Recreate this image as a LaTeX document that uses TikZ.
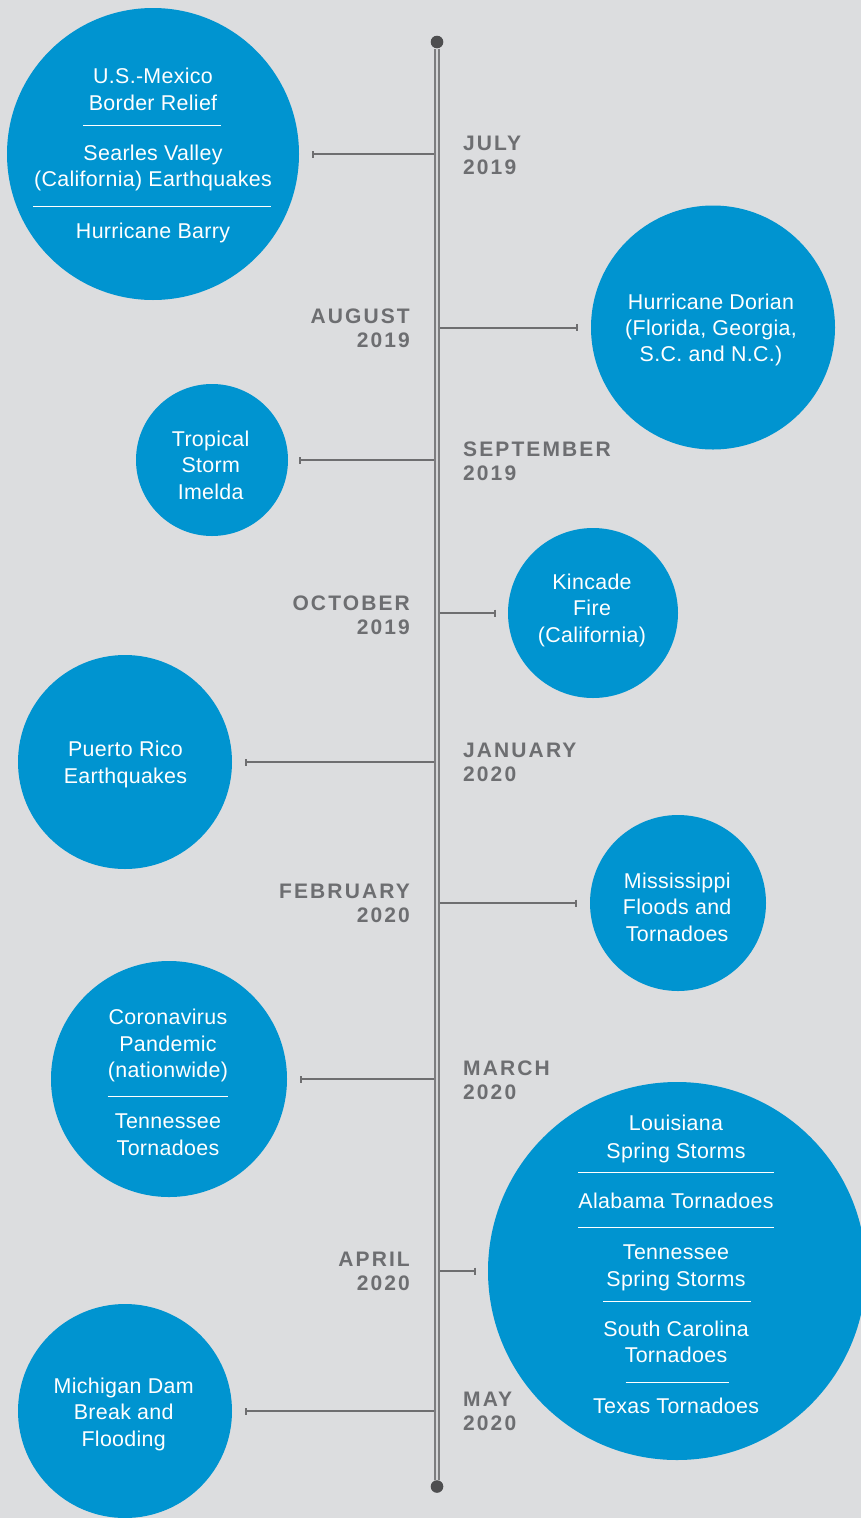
\documentclass[tikz,border=0pt]{standalone}
\usepackage{fontspec}
\setmainfont{Liberation Sans}
\newfontfamily\circfont{Liberation Sans}[LetterSpace=1.5]
\newfontfamily\lblfont{Liberation Sans}[LetterSpace=10]
\usetikzlibrary{arrows.meta}
\definecolor{bgcol}{HTML}{DCDDDF}
\definecolor{cblue}{HTML}{0094D0}
\definecolor{lblgray}{HTML}{6D6E71}
\definecolor{conngray}{HTML}{6E6E70}
\definecolor{dotgray}{HTML}{4E4E50}
\definecolor{tlgray}{HTML}{7C7C7E}
\definecolor{tlinner}{HTML}{D4D5D7}
\begin{document}
\begin{tikzpicture}[x=1pt,y=-1pt,
  bubble/.style={circle,fill=cblue,inner sep=0pt,minimum size=#1},
  ctext/.style={text=white,font=\circfont\fontsize{21.4}{26.7}\selectfont,anchor=base,inner sep=0pt},
  lblL/.style={text=lblgray,font=\lblfont\bfseries\fontsize{21}{24}\selectfont,anchor=base west,inner sep=0pt},
  lblR/.style={text=lblgray,font=\lblfont\bfseries\fontsize{21}{24}\selectfont,anchor=base east,inner sep=0pt},
  conn/.style={draw=conngray,line width=2pt,-{Bar[width=7pt]},shorten >=13pt},
  sepline/.style={draw=white,line width=1pt},
  tldot/.style={circle,fill=dotgray,inner sep=0pt,minimum size=12.6pt},
]
\useasboundingbox (0,0) rectangle (861,1518);
\fill[bgcol] (0,0) rectangle (861,1518);
\clip (0,0) rectangle (861,1518);

% bubbles
\node[bubble=292pt] (c1) at (153,154) {};
\node[bubble=244pt] (c2) at (713,327.5) {};
\node[bubble=152pt] (c3) at (212,460) {};
\node[bubble=170pt] (c4) at (593,613) {};
\node[bubble=214pt] (c5) at (125,762) {};
\node[bubble=176pt] (c6) at (678,903) {};
\node[bubble=236pt] (c7) at (169,1079) {};
\node[bubble=378pt] (c8) at (677,1271) {};
\node[bubble=214pt] (c9) at (125,1411) {};

% timeline anchor points
\coordinate (t1) at (437,154);
\coordinate (t2) at (437,327.5);
\coordinate (t3) at (437,460);
\coordinate (t4) at (437,613);
\coordinate (t5) at (437,762);
\coordinate (t6) at (437,903);
\coordinate (t7) at (437,1079);
\coordinate (t8) at (437,1271);
\coordinate (t9) at (437,1411);

% connectors
\draw[conn] (t1) -- (c1);
\draw[conn] (t2) -- (c2);
\draw[conn,shorten >=11pt] (t3) -- (c3);
\draw[conn,shorten >=12pt] (t4) -- (c4);
\draw[conn] (t5) -- (c5);
\draw[conn] (t6) -- (c6);
\draw[conn] (t7) -- (c7);
\draw[conn,shorten >=12pt] (t8) -- (c8);
\draw[conn] (t9) -- (c9);

% timeline
\node[tldot] (top) at (437,42) {};
\node[tldot] (bot) at (437,1486.5) {};
\draw[tlgray,line width=6pt] (top) -- (bot);
\draw[tlinner,line width=2.6pt] (top.south) -- (bot.north);

% month labels
\node[lblL] (m1a) at (463,150) {JULY};
\node[lblL] (m1b) at (463,174) {2019};
\node[lblR] (m2a) at (410,323.5) {AUGUST};
\node[lblR] (m2b) at (410,347.5) {2019};
\node[lblL] (m3a) at (463,456.5) {SEPTEMBER};
\node[lblL] (m3b) at (463,480.5) {2019};
\node[lblR] (m4a) at (410,610.5) {OCTOBER};
\node[lblR] (m4b) at (410,634.5) {2019};
\node[lblL] (m5a) at (463,757.5) {JANUARY};
\node[lblL] (m5b) at (463,781.5) {2020};
\node[lblR] (m6a) at (410,898.5) {FEBRUARY};
\node[lblR] (m6b) at (410,922.5) {2020};
\node[lblL] (m7a) at (463,1075.5) {MARCH};
\node[lblL] (m7b) at (463,1099.5) {2020};
\node[lblR] (m8a) at (410,1266.5) {APRIL};
\node[lblR] (m8b) at (410,1290.5) {2020};
\node[lblL] (m9a) at (463,1406.7) {MAY};
\node[lblL] (m9b) at (463,1430.7) {2020};

% bubble 1
\node[ctext] (b1a) at (153,83) {U.S.-Mexico};
\node[ctext] (b1b) at (153,110) {Border Relief};
\draw[sepline] (83,125.7) -- (221,125.7);
\node[ctext] (b1c) at (153,160.7) {Searles Valley};
\node[ctext] (b1d) at (153,186.7) {(California) Earthquakes};
\draw[sepline] (33,206) -- (271,206);
\node[ctext] (b1e) at (153,238) {Hurricane Barry};

% bubble 2
\node[ctext] (b2a) at (711,309.3) {Hurricane Dorian};
\node[ctext] (b2b) at (711,335.5) {(Florida, Georgia,};
\node[ctext] (b2c) at (711,361.7) {S.C. and N.C.)};

% bubble 3
\node[ctext] (b3a) at (210.7,446) {Tropical};
\node[ctext] (b3b) at (210.7,472.7) {Storm};
\node[ctext] (b3c) at (210.7,499.3) {Imelda};

% bubble 4
\node[ctext] (b4a) at (592,589.3) {Kincade};
\node[ctext] (b4b) at (592,615.3) {Fire};
\node[ctext] (b4c) at (592,642.3) {(California)};

% bubble 5
\node[ctext] (b5a) at (125.5,756.7) {Puerto Rico};
\node[ctext] (b5b) at (125.5,783.3) {Earthquakes};

% bubble 6
\node[ctext] (b6a) at (677.2,888.3) {Mississippi};
\node[ctext] (b6b) at (677.2,914.3) {Floods and};
\node[ctext] (b6c) at (677.2,941) {Tornadoes};

% bubble 7
\node[ctext] (b7a) at (168,1024.3) {Coronavirus};
\node[ctext] (b7b) at (168,1051) {Pandemic};
\node[ctext] (b7c) at (168,1077.7) {(nationwide)};
\draw[sepline] (107.7,1096.7) -- (227.7,1096.7);
\node[ctext] (b7d) at (168,1128.3) {Tennessee};
\node[ctext] (b7e) at (168,1155) {Tornadoes};

% bubble 8
\node[ctext] (b8a) at (676,1130.7) {Louisiana};
\node[ctext] (b8b) at (676,1158.3) {Spring Storms};
\draw[sepline] (578.3,1172.7) -- (773.7,1172.7);
\node[ctext] (b8c) at (676,1208.3) {Alabama Tornadoes};
\draw[sepline] (578.3,1227) -- (773.7,1227);
\node[ctext] (b8d) at (676,1259.3) {Tennessee};
\node[ctext] (b8e) at (676,1286.7) {Spring Storms};
\draw[sepline] (603.3,1301) -- (751.3,1301);
\node[ctext] (b8f) at (676,1336) {South Carolina};
\node[ctext] (b8g) at (676,1362.7) {Tornadoes};
\draw[sepline] (625.7,1382.3) -- (729,1382.3);
\node[ctext] (b8h) at (676,1413.3) {Texas Tornadoes};

% bubble 9
\node[ctext] (b9a) at (123.7,1393.3) {Michigan Dam};
\node[ctext] (b9b) at (123.7,1419.3) {Break and};
\node[ctext] (b9c) at (123.7,1446) {Flooding};
\end{tikzpicture}
\end{document}
